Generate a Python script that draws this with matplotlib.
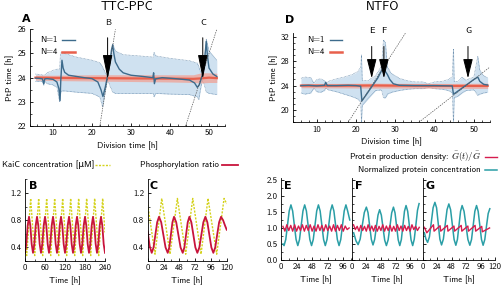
import matplotlib
matplotlib.use('Agg')
import matplotlib.pyplot as plt
from matplotlib.lines import Line2D
from matplotlib.ticker import MultipleLocator

# ---------------- data ----------------
# Panel A (TTC-PPC), N=1 mean curve
A_t = [5.5, 6.5, 7.3, 7.6, 7.9, 8.5, 10, 11, 11.5, 11.8, 12.0, 12.3, 12.6, 13, 14, 16, 18, 20, 21.5, 22.3,
       22.8, 23.4, 23.9, 24.5, 25.0, 25.3, 25.6, 26, 27, 28, 30, 33, 35.6, 35.8, 36.0, 36.3, 38, 42, 45, 46.3,
       47.0, 47.5, 48.0, 48.5, 48.9, 49.3, 49.6, 50.0, 51, 52]
A_n1 = [23.98, 23.97, 23.95, 23.75, 23.95, 23.96, 23.93, 23.82, 23.55, 23.05, 23.9, 24.72, 24.4, 24.22, 24.1,
        24.05, 24.0, 23.96, 23.82, 23.5, 23.22, 23.6, 24.0, 24.5, 25.15, 25.35, 25.0, 24.65, 24.35, 24.2,
        24.1, 24.05, 24.0, 24.2, 23.75, 23.95, 24.0, 23.95, 23.9, 23.78, 23.6, 23.7, 23.95, 24.25, 24.8,
        25.5, 24.9, 24.4, 24.15, 24.05]
A_band_t = [5.5, 7.0, 7.5, 7.6, 7.9, 8.5, 10, 11, 11.7, 11.9, 12.1, 13, 16, 20, 22, 22.7, 23.4, 24.0, 24.5, 25.3,
            26, 28, 32, 35.7, 35.9, 36.3, 40, 45, 47, 47.4, 47.8, 48.3, 48.8, 49.3, 50, 52]
A_band_hi = [24.15, 24.12, 24.1, 24.1, 24.12, 24.2, 24.3, 24.35, 24.35, 24.95, 25.05, 25.0, 24.85, 24.72, 24.62,
             24.45, 24.2, 24.05, 24.4, 25.4, 25.1, 24.95, 24.9, 24.85, 25.05, 24.9, 24.8, 24.7, 24.6, 24.45,
             24.25, 24.2, 24.6, 25.6, 25.1, 24.72]
A_band_lo = [23.85, 23.85, 23.8, 23.68, 23.85, 23.75, 23.7, 23.6, 23.0, 23.3, 23.45, 23.45, 23.4, 23.35, 23.2,
             22.8, 23.45, 23.95, 23.7, 23.4, 23.35, 23.35, 23.35, 23.35, 23.2, 23.35, 23.32, 23.3, 23.2, 23.1,
             23.5, 23.9, 23.7, 23.4, 23.35, 23.3]
A_r_t = [5.5, 10, 20, 30, 40, 46, 48, 50, 52]
A_r_mid = [24.0, 23.99, 23.98, 23.97, 23.96, 23.95, 23.97, 24.0, 23.98]
A_r_hi = [24.1, 24.1, 24.12, 24.12, 24.12, 24.12, 24.2, 24.2, 24.18]
A_r_lo = [23.9, 23.88, 23.86, 23.84, 23.82, 23.8, 23.78, 23.8, 23.8]

# Panel D (NTFO)
D_t = [6, 8, 10, 12, 12.3, 12.7, 15, 18, 20, 21.2, 21.5, 22.5, 24, 25.5, 26.8, 27.3, 28, 28.6, 29.5, 31,
       35, 40, 44.5, 44.8, 45.5, 47, 48.5, 50, 51.0, 51.5, 52.5, 53.5]
D_n1 = [24.0, 24.05, 23.95, 24.05, 24.55, 24.0, 24.0, 24.05, 24.0, 23.9, 21.5, 22.4, 23.8, 25.2, 26.8, 26.5,
        25.8, 25.0, 24.3, 24.05, 24.0, 24.0, 23.95, 22.6, 22.9, 23.6, 24.3, 25.0, 25.4, 24.7, 24.2, 24.1]
D_band_t = [6, 7, 8.5, 9.3, 10, 11, 12, 12.3, 13, 15, 17, 19, 20.5, 21.2, 21.4, 21.6, 23, 25, 26.5, 27.0,
            27.5, 28, 29, 31, 33, 35, 37, 38.5, 40, 42, 43.5, 44.5, 44.8, 45.0, 46, 47, 48, 50, 51, 51.5,
            52.5, 53.5]
D_band_hi = [25.2, 25.4, 25.3, 24.4, 25.0, 25.1, 24.8, 24.4, 24.7, 25.1, 25.4, 25.8, 26.3, 27.0, 29.0, 24.8,
             24.8, 25.6, 27.2, 31.5, 31.0, 27.0, 26.0, 25.2, 24.8, 24.6, 24.6, 24.3, 24.6, 24.7, 25.0, 25.4,
             30.0, 24.6, 24.7, 25.4, 24.9, 25.4, 28.8, 26.5, 25.6, 25.3]
D_band_lo = [22.8, 22.6, 22.8, 23.6, 23.0, 22.9, 23.2, 23.6, 23.3, 23.0, 22.6, 22.2, 21.8, 21.3, 18.0, 20.8,
             21.8, 23.2, 23.3, 22.0, 22.0, 22.6, 22.9, 23.2, 23.4, 23.5, 23.5, 23.7, 23.5, 23.4, 23.2, 22.8,
             18.0, 22.0, 22.3, 22.8, 23.2, 23.3, 22.4, 22.6, 22.8, 22.9]
D_r_t = [6, 15, 25, 35, 45, 53.5]
D_r_mid = [24.0, 23.98, 24.02, 23.97, 23.95, 23.95]
D_r_hi = [24.35, 24.35, 24.4, 24.35, 24.35, 24.4]
D_r_lo = [23.65, 23.62, 23.6, 23.6, 23.55, 23.55]

# Panel B
B_red_t = [0, 4, 8, 12, 16, 20, 24, 28, 32, 36, 40, 44, 48, 52, 56, 60, 64, 68, 72, 76, 80, 84, 88, 92,
           96, 100, 104, 108, 112, 116, 120, 124, 128, 132, 136, 140, 144, 148, 152, 156, 160, 164, 168,
           172, 176, 180, 184, 188, 192, 196, 200, 204, 208, 212, 216, 220, 224, 228, 232, 236, 240]
B_red = [0.32, 0.45, 0.72, 0.85, 0.72, 0.45, 0.32, 0.45, 0.72, 0.85, 0.72, 0.45, 0.32, 0.45, 0.72, 0.85,
         0.72, 0.45, 0.32, 0.45, 0.72, 0.85, 0.72, 0.45, 0.32, 0.45, 0.72, 0.85, 0.72, 0.45, 0.32, 0.45,
         0.72, 0.85, 0.72, 0.45, 0.32, 0.45, 0.72, 0.85, 0.72, 0.45, 0.32, 0.45, 0.72, 0.85, 0.72, 0.45,
         0.32, 0.45, 0.72, 0.85, 0.72, 0.45, 0.32, 0.45, 0.72, 0.85, 0.72, 0.45, 0.32]
B_yel_t = [0, 5, 17, 29, 41, 53, 65, 77, 89, 101, 113, 125, 137, 149, 161, 173, 185, 197, 209, 221, 233, 240]
B_yel = [0.5, 0.28, 1.12, 0.28, 1.12, 0.28, 1.12, 0.28, 1.12, 0.28, 1.12, 0.28, 1.12, 0.28, 1.12, 0.28,
         1.12, 0.28, 1.12, 0.28, 1.12, 0.62]

# Panel C
C_red_t = [0, 3, 6.1, 8.9, 11.65, 14.4, 17.2, 20.5, 23.8, 27.1, 30.4, 32.8, 35.2, 37.6, 40, 43.3, 46.6, 49.9,
           53.2, 55.7, 58.25, 60.8, 63.3, 66.3, 69.35, 72.4, 75.4, 78.45, 81.5, 84.55, 87.6, 90.6, 93.65,
           96.7, 99.7, 102.6, 105.5, 108.5, 111.4, 114.5, 117.5, 120]
C_red = [0.63, 0.42, 0.32, 0.40, 0.585, 0.77, 0.85, 0.77, 0.585, 0.40, 0.32, 0.40, 0.585, 0.77, 0.85, 0.77,
         0.585, 0.40, 0.32, 0.40, 0.585, 0.77, 0.85, 0.77, 0.585, 0.40, 0.32, 0.40, 0.585, 0.77, 0.85, 0.77,
         0.585, 0.40, 0.32, 0.40, 0.585, 0.77, 0.85, 0.80, 0.72, 0.66]
C_yel_t = [0, 11.1, 21.3, 33.9, 45.1, 57.7, 68.4, 81, 91.6, 104.8, 116, 120]
C_yel = [1.03, 0.3, 1.12, 0.3, 1.12, 0.3, 1.12, 0.3, 1.12, 0.3, 1.12, 1.04]

# Panel E
E_t = [3, 4.7, 7.35, 10, 12.65, 15.3, 17.95, 20.6, 23.25, 25.9, 28.55, 31.2, 33.85, 36.5, 39.15, 41.8,
       44.45, 47.1, 49.75, 52.4, 55.05, 57.7, 60.35, 63, 65.65, 68.3, 70.95, 73.6, 76.25, 78.9, 81.55, 84.2,
       86.85, 89.5, 92.15, 94.8, 97.45, 100.1, 102.75, 106]
E_teal = [0.5, 0.45, 0.64, 1.085, 1.53, 1.72, 1.53, 1.085, 0.64, 0.45, 0.64, 1.085, 1.53, 1.72, 1.53, 1.085,
          0.64, 0.45, 0.64, 1.085, 1.53, 1.72, 1.53, 1.085, 0.64, 0.45, 0.64, 1.085, 1.53, 1.72, 1.53, 1.085,
          0.64, 0.45, 0.64, 1.085, 1.53, 1.72, 1.53, 1.25]
E_red_t = [3, 6, 9, 12, 15, 18, 21, 24, 27, 30, 33, 36, 39, 42, 45, 48, 51, 54, 57, 60, 63, 66, 69, 72,
           75, 78, 81, 84, 87, 90, 93, 96, 99, 102, 105]
E_red = [1.05, 0.9, 1.1, 0.92, 1.08, 0.9, 1.1, 0.9, 1.06, 0.92, 1.1, 0.9, 1.08, 0.92, 1.1, 0.9, 1.06, 0.9,
         1.1, 0.92, 1.08, 0.9, 1.1, 0.92, 1.06, 0.9, 1.1, 0.9, 1.08, 0.92, 1.1, 0.9, 1.06, 0.95, 1.0]

# Panel F
F_t = [3.2, 7, 10.5, 13.9, 17.3, 20.7, 24.1, 26.8, 29.55, 32.3, 35, 37.7, 40.45, 43.2, 45.9, 48.7, 51.45,
       54.2, 57, 59.9, 62.8, 65.7, 68.6, 71.2, 73.8, 76.4, 79, 81.6, 84.15, 86.7, 89.3, 92, 94.75, 97.5,
       100.2, 102.8, 105.5, 108.1, 110.7]
F_teal = [0.85, 0.6, 0.48, 0.65, 1.07, 1.48, 1.65, 1.48, 1.06, 0.64, 0.47, 0.64, 1.02, 1.4, 1.57, 1.4, 1.01,
          0.62, 0.45, 0.63, 1.05, 1.47, 1.65, 1.47, 1.05, 0.63, 0.45, 0.64, 1.08, 1.52, 1.7, 1.52, 1.08,
          0.63, 0.45, 0.65, 1.1, 1.55, 1.76]
F_red_t = [3, 6, 9, 12, 15, 18, 21, 24, 27, 30, 33, 36, 39, 42, 45, 48, 51, 54, 57, 60, 63, 66, 69, 72,
           75, 78, 81, 84, 87, 90, 93, 96, 99, 102, 105, 108, 111]
F_red = [1.1, 0.95, 1.05, 0.9, 1.08, 0.92, 1.05, 0.9, 1.1, 0.92, 1.06, 0.9, 1.08, 0.9, 1.05, 0.92, 1.1, 0.9,
         1.06, 0.92, 1.08, 0.9, 1.05, 0.9, 1.1, 0.92, 1.06, 0.9, 1.08, 0.92, 1.05, 0.9, 1.1, 0.95, 1.05,
         0.92, 1.02]

# Panel G
G_t = [3, 5.6, 8.3, 11.3, 14.35, 17.4, 20.4, 23.15, 25.9, 28.65, 31.4, 34.4, 37.45, 40.5, 43.5, 46.4, 49.3,
       52.2, 55.1, 57.7, 60.3, 62.9, 65.5, 68.7, 71.9, 75.1, 78.3, 81.1, 83.85, 86.6, 89.4, 92.1, 94.85,
       97.6, 100.3, 103.1, 105.9, 108.7, 111.4]
G_teal = [0.85, 0.65, 0.55, 0.72, 1.17, 1.63, 1.8, 1.63, 1.14, 0.65, 0.47, 0.65, 1.11, 1.57, 1.75, 1.57, 1.1,
          0.64, 0.46, 0.64, 1.08, 1.52, 1.7, 1.52, 1.08, 0.64, 0.46, 0.64, 1.08, 1.52, 1.7, 1.52, 1.08,
          0.64, 0.46, 0.64, 1.06, 1.45, 1.6]
G_red_t = [3, 7, 18, 19, 29, 30, 41, 42, 52, 53, 64, 65, 75, 76, 87, 88, 98, 99, 111]
G_red = [1.02, 0.85, 1.1, 0.9, 1.07, 0.9, 1.08, 0.9, 1.06, 0.9, 1.08, 0.9, 1.06, 0.9, 1.08, 0.9, 1.05, 0.88, 1.0]

# annotation positions (data coords)
A_arrows = [('B', 24.0), ('C', 48.4)]
D_arrows = [('E', 24.0), ('F', 27.1), ('G', 48.5)]

# ---------------- style ----------------
W, H = 501, 286
plt.rcParams['font.family'] = ['cmss10', 'DejaVu Sans']
plt.rcParams['mathtext.fontset'] = 'cm'
plt.rcParams['axes.unicode_minus'] = False

BLUE = '#3d6b8c'
BAND = '#cfe1f0'
BAND_EDGE = '#6086a8'
RED4 = '#e8604c'
RED4_BAND = '#f1a194'
YELLOW = '#d4d21c'
CRIMSON = '#c8143c'
TEAL = '#2a9ea6'
PINK = '#d61c4e'

TICK_FS = 6.3
LAB_FS = 6.3

fig = plt.figure(figsize=(W / 100, H / 100), dpi=100)


def box(x0, y0, x1, y1):
    return [x0 / W, 1 - y1 / H, (x1 - x0) / W, (y1 - y0) / H]


def fx(x):
    return x / W


def fy(y):
    return 1 - y / H


def style(ax):
    for s in ['top', 'right']:
        ax.spines[s].set_visible(False)
    for s in ['left', 'bottom']:
        ax.spines[s].set_linewidth(0.6)
    ax.tick_params(which='major', direction='in', labelsize=TICK_FS, length=2.5, width=0.6, pad=2.5)
    ax.tick_params(which='minor', direction='in', length=1.5, width=0.5)


# ---- Panel A ----
axA = fig.add_axes(box(29.6, 29.3, 224.6, 126))
style(axA)
axA.fill_between(A_band_t, A_band_lo, A_band_hi, color=BAND, lw=0, zorder=1)
axA.plot(A_band_t, A_band_hi, color=BAND_EDGE, lw=0.5, ls=(0, (1, 1)), zorder=2)
axA.plot(A_band_t, A_band_lo, color=BAND_EDGE, lw=0.5, ls=(0, (1, 1)), zorder=2)
axA.fill_between(A_r_t, A_r_lo, A_r_hi, color=RED4_BAND, alpha=0.75, lw=0, zorder=3)
axA.plot(A_r_t, A_r_mid, color=RED4, lw=1.6, zorder=4)
axA.plot(A_t, A_n1, color=BLUE, lw=1.0, zorder=5)
axA.axline((0, 0), slope=1, color='#555555', lw=0.5, ls=(0, (2, 1.5)), zorder=6)
axA.axline((0, 0), slope=0.5, color='#555555', lw=0.5, ls=(0, (2, 1.5)), zorder=6)
for lab, t in A_arrows:
    axA.annotate('', xy=(t, 23.95), xytext=(t, 25.65),
                 arrowprops=dict(arrowstyle='-|>,head_length=1.5,head_width=0.3', color='black',
                                 lw=0.7, mutation_scale=10, shrinkA=0, shrinkB=0), zorder=7)
    axA.text(t + 0.2, 26.08, lab, ha='center', va='bottom', fontsize=6.5)
axA.set_xlim(4, 54)
axA.set_ylim(22, 26)
axA.xaxis.set_major_locator(MultipleLocator(10))
axA.xaxis.set_minor_locator(MultipleLocator(2))
axA.yaxis.set_major_locator(MultipleLocator(1))
axA.yaxis.set_minor_locator(MultipleLocator(0.5))
axA.set_xlabel('Division time [h]', fontsize=LAB_FS, labelpad=3)
axA.set_ylabel('PtP time [h]', fontsize=LAB_FS, labelpad=2)

# ---- Panel D ----
axD = fig.add_axes(box(293.1, 33.0, 489.6, 122.3))
style(axD)
axD.fill_between(D_band_t, D_band_lo, D_band_hi, color=BAND, lw=0, zorder=1)
axD.plot(D_band_t, D_band_hi, color=BAND_EDGE, lw=0.5, ls=(0, (1, 1)), zorder=2)
axD.plot(D_band_t, D_band_lo, color=BAND_EDGE, lw=0.5, ls=(0, (1, 1)), zorder=2)
axD.fill_between(D_r_t, D_r_lo, D_r_hi, color=RED4_BAND, alpha=0.75, lw=0, zorder=3)
axD.plot(D_r_t, D_r_mid, color=RED4, lw=1.6, zorder=4)
axD.plot(D_t, D_n1, color=BLUE, lw=1.0, zorder=5)
axD.axline((0, 0), slope=1, color='#555555', lw=0.5, ls=(0, (2, 1.5)), zorder=6)
axD.axline((0, 0), slope=0.5, color='#555555', lw=0.5, ls=(0, (2, 1.5)), zorder=6)
for lab, t in D_arrows:
    axD.annotate('', xy=(t, 25.2), xytext=(t, 30.4),
                 arrowprops=dict(arrowstyle='-|>,head_length=1.2,head_width=0.3', color='black',
                                 lw=0.7, mutation_scale=10, shrinkA=0, shrinkB=0), zorder=7)
    axD.text(t, 32.3, lab, ha='center', va='bottom', fontsize=6.5)
axD.set_xlim(4, 54)
axD.set_ylim(18, 32.6)
axD.xaxis.set_major_locator(MultipleLocator(10))
axD.xaxis.set_minor_locator(MultipleLocator(2))
axD.yaxis.set_major_locator(MultipleLocator(4))
axD.yaxis.set_minor_locator(MultipleLocator(1))
axD.set_xlabel('Division time [h]', fontsize=LAB_FS, labelpad=3)
axD.set_ylabel('PtP time [h]', fontsize=LAB_FS, labelpad=2)

# ---- Panel B, C ----
axB = fig.add_axes(box(25, 179.4, 105, 261))
axC = fig.add_axes(box(147.7, 179.4, 226.7, 261))
for ax, tr, vr, ty, vy, xmax, step in [(axB, B_red_t, B_red, B_yel_t, B_yel, 240, 60),
                                       (axC, C_red_t, C_red, C_yel_t, C_yel, 120, 24)]:
    style(ax)
    ax.plot(ty, vy, color=YELLOW, lw=1.0, ls=(0, (1.5, 1)))
    ax.plot(tr, vr, color=CRIMSON, lw=1.3)
    ax.set_xlim(0, xmax)
    ax.set_ylim(0.2, 1.4)
    ax.xaxis.set_major_locator(MultipleLocator(step))
    ax.xaxis.set_minor_locator(MultipleLocator(step / 2))
    ax.yaxis.set_major_locator(MultipleLocator(0.4))
    ax.yaxis.set_minor_locator(MultipleLocator(0.2))
    ax.set_xlabel('Time [h]', fontsize=LAB_FS, labelpad=3)

# ---- Panels E, F, G ----
axE = fig.add_axes(box(281, 178.3, 351.7, 260))
axF = fig.add_axes(box(351.7, 178.3, 422.6, 260))
axG = fig.add_axes(box(422.6, 178.3, 495, 260))
for ax, tt, vt, trr, vrr, xmax in [(axE, E_t, E_teal, E_red_t, E_red, 109),
                                   (axF, F_t, F_teal, F_red_t, F_red, 116.5),
                                   (axG, G_t, G_teal, G_red_t, G_red, 120)]:
    style(ax)
    ax.plot(tt, vt, color=TEAL, lw=1.1)
    ax.plot(trr, vrr, color=PINK, lw=1.0)
    ax.set_xlim(0, xmax)
    ax.set_ylim(0, 2.55)
    ax.xaxis.set_major_locator(MultipleLocator(24))
    ax.xaxis.set_minor_locator(MultipleLocator(12))
    ax.yaxis.set_major_locator(MultipleLocator(0.5))
    ax.yaxis.set_minor_locator(MultipleLocator(0.25))
    ax.set_xlabel('Time [h]', fontsize=LAB_FS, labelpad=3)
for ax in (axF, axG):
    ax.tick_params(labelleft=False)

# ---- texts ----
fig.text(fx(127), fy(7), 'TTC-PPC', ha='center', va='center', fontsize=9)
fig.text(fx(383), fy(7), 'NTFO', ha='center', va='center', fontsize=9)
for lab, x, y in [('A', 26, 19), ('D', 290, 20), ('B', 33, 186), ('C', 153.5, 186),
                  ('E', 287.5, 186), ('F', 358.5, 186), ('G', 430.5, 186)]:
    fig.text(fx(x), fy(y), lab, ha='center', va='center', fontsize=8, fontweight='bold',
             family='DejaVu Sans')

# legends in A and D
for x0, lx0, lx1 in [(40, 62, 75), (307, 330, 342)]:
    fig.text(fx(x0), fy(40), 'N=1', ha='left', va='center', fontsize=LAB_FS)
    fig.text(fx(x0), fy(52), 'N=4', ha='left', va='center', fontsize=LAB_FS)
    fig.add_artist(Line2D([fx(lx0), fx(lx1)], [fy(40), fy(40)], color=BLUE, lw=1.0,
                          transform=fig.transFigure))
    fig.add_artist(Line2D([fx(lx0), fx(lx1)], [fy(52), fy(52)], color=RED4, lw=1.8,
                          transform=fig.transFigure))

# legend B/C
fig.text(fx(2), fy(165), 'KaiC concentration [μM]', ha='left', va='center', fontsize=LAB_FS)
fig.add_artist(Line2D([fx(95), fx(110)], [fy(165), fy(165)], color=YELLOW, lw=1.0, ls=(0, (1.5, 1)),
                      transform=fig.transFigure))
fig.text(fx(140), fy(165), 'Phosphorylation ratio', ha='left', va='center', fontsize=LAB_FS)
fig.add_artist(Line2D([fx(222), fx(238)], [fy(165), fy(165)], color=CRIMSON, lw=1.3,
                      transform=fig.transFigure))

# legend E-G
fig.text(fx(481), fy(157), r'Protein production density: $\bar{G}(t)/\bar{G}$', ha='right', va='center',
         fontsize=LAB_FS)
fig.add_artist(Line2D([fx(485), fx(497)], [fy(157), fy(157)], color=PINK, lw=1.0,
                      transform=fig.transFigure))
fig.text(fx(481), fy(169.5), 'Normalized protein concentration', ha='right', va='center', fontsize=LAB_FS)
fig.add_artist(Line2D([fx(485), fx(497)], [fy(169.5), fy(169.5)], color=TEAL, lw=1.1,
                      transform=fig.transFigure))

fig.savefig('out.png', dpi=100)
